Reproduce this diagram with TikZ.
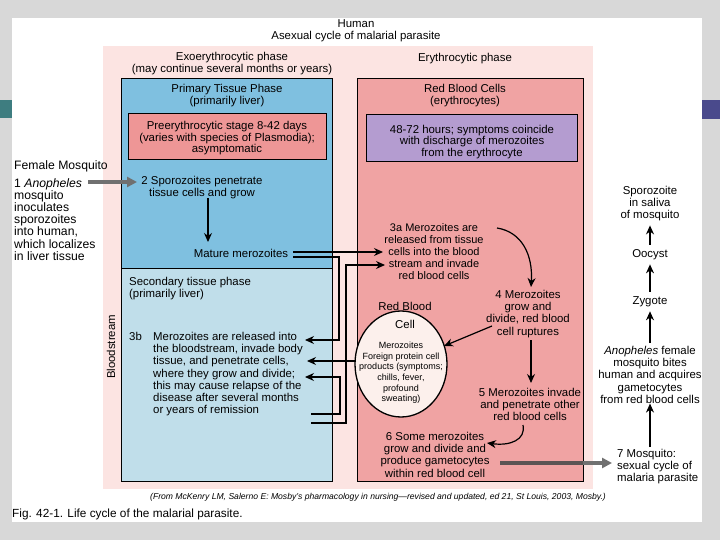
\documentclass[tikz,border=0pt]{standalone}
\usepackage{fontspec}
\setmainfont{Liberation Sans}
\usetikzlibrary{arrows.meta,shapes.geometric}
\definecolor{bggray}{RGB}{216,216,216}
\definecolor{tealbar}{RGB}{62,125,128}
\definecolor{purplebar}{RGB}{74,74,140}
\definecolor{panelpink}{RGB}{252,228,226}
\definecolor{liverblue}{RGB}{127,192,224}
\definecolor{paleblue}{RGB}{192,222,234}
\definecolor{rbcred}{RGB}{240,163,163}
\definecolor{prered}{RGB}{238,150,150}
\definecolor{lilac}{RGB}{180,156,208}
\definecolor{cellfill}{RGB}{252,240,236}
\definecolor{mosqgray}{RGB}{112,112,112}
\definecolor{darkgray}{RGB}{92,84,84}
\begin{document}
\begin{tikzpicture}[x=1pt,y=-1pt,
  txt/.style={font=\fontsize{11.4}{12.2}\selectfont, inner sep=0pt, align=center},
  txtl/.style={txt, align=left},
  bigl/.style={font=\fontsize{12.2}{12.2}\selectfont, inner sep=0pt, align=left},
  small/.style={font=\fontsize{9}{10.6}\selectfont, inner sep=0pt, align=center},
  phasebox/.style={draw=black, line width=1.4pt, anchor=north west, inner sep=0pt},
  arr/.style={-{Stealth[length=9pt,width=8pt]}, line width=1.2pt},
  fat/.style={-{Triangle[length=10pt,width=10pt]}, line width=3.5pt, color=mosqgray}
]
\useasboundingbox (0,0) rectangle (720,540);
% slide background
\fill[bggray] (0,0) rectangle (720,540);
\fill[white] (12,18) rectangle (702,522);
\fill[tealbar] (0,100) rectangle (12,118);
\fill[purplebar] (702,100) rectangle (720,119);
\fill[panelpink] (103,46) rectangle (593,489);

% titles
\node[txt, anchor=north] (title) at (356,19) {Human\\Asexual cycle of malarial parasite};
\node[txt, anchor=north] (exo) at (232,52) {Exoerythrocytic phase\\(may continue several months or years)};
\node[txt, anchor=north] (ery) at (465,53) {Erythrocytic phase};

% boxes
\node[phasebox, fill=liverblue, minimum width=211pt, minimum height=190pt] (primary) at (121,78) {};
\node[phasebox, fill=paleblue, minimum width=211pt, minimum height=213pt] (secondary) at (121,268) {};
\node[phasebox, fill=rbcred, minimum width=226pt, minimum height=403pt] (rbc) at (357,78) {};
\node[phasebox, fill=prered, minimum width=198pt, minimum height=46pt] (pre) at (128,113) {};
\node[phasebox, fill=lilac, minimum width=211pt, minimum height=47pt] (lil) at (366,114) {};

% box texts
\node[txt, anchor=north] (primt) at (227,84) {Primary Tissue Phase\\(primarily liver)};
\node[txt, anchor=north, font=\fontsize{11.4}{11.6}\selectfont] (pret) at (227,121) {Preerythrocytic stage 8-42 days\\(varies with species of Plasmodia);\\asymptomatic};
\node[txt, anchor=north] (rbct) at (465,84) {Red Blood Cells\\(erythrocytes)};
\node[txt, anchor=north, font=\fontsize{11.4}{11.3}\selectfont] (lilt) at (472,125) {48-72 hours; symptoms coincide\\with discharge of merozoites\\from the erythrocyte};

% left mosquito text
\node[bigl, anchor=north west] (fem) at (14,160) {Female Mosquito};
\node[bigl, anchor=north west] (n1) at (14,178) {1 \textit{Anopheles}\\mosquito\\inoculates\\sporozoites\\into human,\\which localizes\\in liver tissue};

% primary tissue phase content
\node[txt, anchor=north] (n2) at (202,176) {2 Sporozoites penetrate\\tissue cells and grow};
\node[txt] (mature) at (241,253) {Mature merozoites};

% secondary tissue phase
\node[txtl, anchor=north west] (sect) at (129,277) {Secondary tissue phase\\(primarily liver)};
\node[txtl, anchor=north west] (n3blbl) at (129,332) {3b};
\node[txtl, anchor=north west] (n3b) at (153,332) {Merozoites are released into\\the bloodstream, invade body\\tissue, and penetrate cells,\\where they grow and divide;\\this may cause relapse of the\\disease after several months\\or years of remission};
\node[txt, rotate=90] (blood) at (111,347) {Bloodstream};

% erythrocytic content
\node[txt, anchor=north, font=\fontsize{11}{12.2}\selectfont] (n3a) at (434,223) {3a Merozoites are\\released from tissue\\cells into the blood\\stream and invade\\red blood cells};
\node[draw=black, line width=1.3pt, fill=cellfill, ellipse, minimum width=92pt, minimum height=106pt, inner sep=0pt] (cell) at (401,364) {};
\node[txt, anchor=north] (cellt) at (405,302) {Red Blood};
\node[txt, anchor=north] (cellt2) at (405,320) {Cell};
\node[small, anchor=north] (cellin) at (401,342) {Merozoites\\Foreign protein cell\\products (symptoms;\\chills, fever,\\profound\\sweating)};
\node[txt, anchor=north] (n4) at (528,290) {4 Merozoites\\grow and\\divide, red blood\\cell ruptures};
\node[txt, anchor=north] (n5) at (530,388) {5 Merozoites invade\\and penetrate other\\red blood cells};
\node[txt, anchor=north] (n6) at (435,432) {6 Some merozoites\\grow and divide and\\produce gametocytes\\within red blood cell};

% mosquito sexual cycle
\node[txtl, anchor=north west] (n7) at (617,449) {7 Mosquito:\\sexual cycle of\\malaria parasite};
\node[txt, anchor=north] (spz) at (650,186) {Sporozoite\\in saliva\\of mosquito};
\node[txt] (oocyst) at (650,255) {Oocyst};
\node[txt] (zygote) at (650,302) {Zygote};
\node[txt, anchor=north] (anoph) at (650,346) {\textit{Anopheles} female\\mosquito bites\\human and acquires\\gametocytes\\from red blood cells};

% captions
\node[font=\fontsize{8.6}{9}\selectfont\itshape, inner sep=0pt] (cite) at (378,497) {(From McKenry LM, Salerno E: Mosby's pharmacology in nursing---revised and updated, ed 21, St Louis, 2003, Mosby.)};
\node[font=\fontsize{11.8}{12}\selectfont, inner sep=0pt, anchor=west] (fig) at (12,514) {Fig. 42-1. Life cycle of the malarial parasite.};

% connector end points
\coordinate (mmA) at (293,252);
\coordinate (mmB) at (293,257);
\coordinate (aIn1) at (383,252);
\coordinate (aIn2) at (385,265);
\coordinate (bIn1) at (305,340);
\coordinate (bIn2) at (307,361);
\coordinate (bIn3) at (305,377);
\coordinate (bOut1) at (311,414);
\coordinate (bOut2) at (311,423);
\coordinate (cellL) at (356,361);
\coordinate (mosqA) at (88,182);
\coordinate (mosqB) at (137,182);
\coordinate (n2s) at (208,198);
\coordinate (mats) at (208,242);
\coordinate (c3a) at (497,228);
\coordinate (c4t) at (531,287);
\coordinate (c4a) at (492,326);
\coordinate (cellR) at (444,346);
\coordinate (c4b) at (531,340);
\coordinate (c5t) at (531,383);
\coordinate (c5b) at (523,425);
\coordinate (c6t) at (487,443);
\coordinate (c6r) at (500,463);
\coordinate (c7l) at (612,463);
\coordinate (boxR) at (583,463);

% connectors
\draw[fat] (mosqA) -- (mosqB);
\draw[arr] (n2s) -- (mats);
\draw[arr] (mmA) -- (aIn1);
\draw[arr] (mmB) -| (339,340) -- (bIn1);
\draw[arr] (bOut2) -| (346,265) -- (aIn2);
\draw[arr] (cellL) -- (bIn2);
\draw[arr] (bOut1) -| (340,377) -- (bIn3);
\draw[arr] (c3a) .. controls (522,232) and (533,255) .. (c4t);
\draw[arr] (c4a) -- (cellR);
\draw[arr] (c4b) -- (c5t);
\draw[arr] (c5b) .. controls (526,440) and (510,446) .. (c6t);
\draw[fat] (c6r) -- (c7l);
\draw[line width=3.5pt, darkgray] (c6r) -- (boxR);

% right column arrows
\draw[arr] (n7.north -| anoph) ++(0,-2) -- (anoph.south);
\draw[arr, shorten <=3pt, shorten >=4pt] (anoph.north) -- (zygote.south);
\draw[arr, shorten <=5pt, shorten >=4pt] (zygote.north) -- (oocyst.south);
\draw[arr, shorten <=5pt, shorten >=4pt] (oocyst.north) -- (spz.south);
\end{tikzpicture}
\end{document}
